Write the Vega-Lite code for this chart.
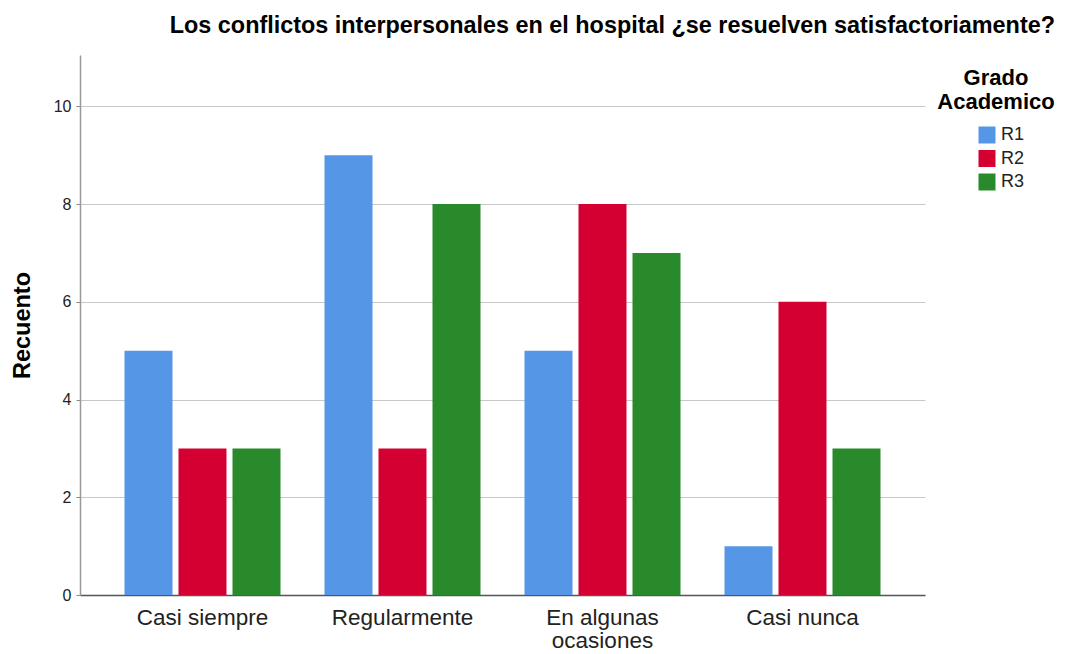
{
  "$schema": "https://vega.github.io/schema/vega-lite/v6.json",
  "width": 845,
  "height": 540,
  "autosize": "none",
  "padding": {"left": 80, "top": 55, "right": 141, "bottom": 59},
  "background": "white",
  "config": {
    "font": "Liberation Sans",
    "view": {"stroke": null}
  },
  "title": {
    "text": "Los conflictos interpersonales en el hospital ¿se resuelven satisfactoriamente?",
    "font": "Liberation Sans",
    "fontSize": 23.4,
    "fontWeight": "bold",
    "color": "#000000",
    "anchor": "end",
    "frame": "group",
    "dx": 130,
    "offset": 17
  },
  "data": {
    "values": [
      {"cat": "Casi siempre", "grado": "R1", "n": 5},
      {"cat": "Casi siempre", "grado": "R2", "n": 3},
      {"cat": "Casi siempre", "grado": "R3", "n": 3},
      {"cat": "Regularmente", "grado": "R1", "n": 9},
      {"cat": "Regularmente", "grado": "R2", "n": 3},
      {"cat": "Regularmente", "grado": "R3", "n": 8},
      {"cat": "En algunas ocasiones", "grado": "R1", "n": 5},
      {"cat": "En algunas ocasiones", "grado": "R2", "n": 8},
      {"cat": "En algunas ocasiones", "grado": "R3", "n": 7},
      {"cat": "Casi nunca", "grado": "R1", "n": 1},
      {"cat": "Casi nunca", "grado": "R2", "n": 6},
      {"cat": "Casi nunca", "grado": "R3", "n": 3}
    ]
  },
  "mark": {"type": "bar"},
  "encoding": {
    "x": {
      "field": "cat",
      "type": "nominal",
      "sort": ["Casi siempre", "Regularmente", "En algunas ocasiones", "Casi nunca"],
      "scale": {"paddingInner": 0.2, "paddingOuter": 0.2125},
      "axis": {
        "title": null,
        "labelAngle": 0,
        "labelFontSize": 22.5,
        "labelColor": "#222222",
        "labelPadding": 11,
        "labelLineHeight": 23,
        "ticks": false,
        "domainColor": "#555555",
        "domainWidth": 1.5,
        "grid": false,
        "labelExpr": "datum.value == 'En algunas ocasiones' ? ['En algunas', 'ocasiones'] : datum.value"
      }
    },
    "xOffset": {
      "field": "grado",
      "type": "nominal",
      "scale": {"paddingInner": 0.111, "paddingOuter": 0.037}
    },
    "y": {
      "field": "n",
      "type": "quantitative",
      "scale": {"domain": [0, 11.05], "nice": false},
      "axis": {
        "title": "Recuento",
        "titleFontSize": 23.5,
        "titleFontWeight": "bold",
        "titleColor": "#000000",
        "titlePadding": 19,
        "values": [0, 2, 4, 6, 8, 10],
        "labelFontSize": 16,
        "labelColor": "#222222",
        "labelPadding": 5,
        "tickSize": 4,
        "tickColor": "#888888",
        "domainColor": "#999999",
        "domainWidth": 1.5,
        "gridColor": "#c8c8c8",
        "gridWidth": 1
      }
    },
    "color": {
      "field": "grado",
      "type": "nominal",
      "scale": {"domain": ["R1", "R2", "R3"], "range": ["#5596e6", "#d50032", "#298a2c"]},
      "legend": {
        "orient": "none",
        "legendX": 857,
        "legendY": 13,
        "title": ["Grado", "Academico"],
        "titleFontSize": 22,
        "titleFontWeight": "bold",
        "titleColor": "#000000",
        "titleAnchor": "middle",
        "titleAlign": "center",
        "titleLineHeight": 24,
        "titlePadding": 12,
        "symbolType": "square",
        "symbolSize": 289,
        "symbolStrokeWidth": 0,
        "symbolOffset": 11,
        "labelFontSize": 18,
        "labelColor": "#222222",
        "labelOffset": 5,
        "rowPadding": 5.5
      }
    }
  }
}
